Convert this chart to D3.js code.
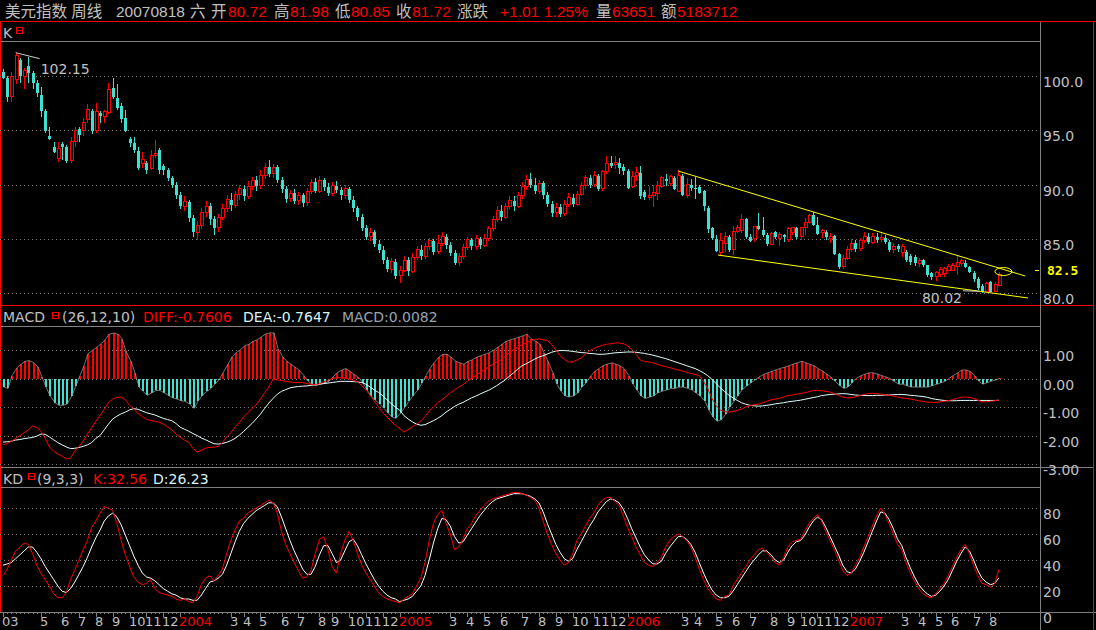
<!DOCTYPE html>
<html><head><meta charset="utf-8">
<script src="https://cdn.jsdelivr.net/npm/d3@7"></script>
<style>body{margin:0;background:#000;overflow:hidden}svg{display:block}</style>
</head><body><svg id="c" width="1096" height="630"></svg>
<script>
// ---------------- DATA ----------------
const opens=[100.4,99.8,98.1,99.7,101.5,100.0,100.9,100.3,99.35,98.25,
96.8,94.5,93.5,92.4,93.7,93.45,92.2,94.0,95.1,95.0,
96.0,96.8,95.0,96.6,96.3,96.6,98.9,98.0,97.2,96.1,
94.2,93.8,93.1,91.9,92.0,91.5,92.7,93.2,91.7,91.3,
90.6,90.0,89.0,88.0,88.4,86.9,85.6,86.2,87.4,88.0,
86.8,86.0,87.0,87.8,88.6,88.1,89.1,89.6,88.9,89.8,
90.4,89.9,90.8,91.6,91.0,91.6,90.4,89.6,88.7,89.2,
88.5,89.0,88.3,89.4,90.2,89.4,90.4,89.8,89.2,89.9,
89.5,89.0,89.6,88.6,87.8,87.0,86.0,85.2,85.6,84.5,
84.0,83.0,82.2,82.9,81.6,82.1,83.0,82.0,83.3,84.0,
83.4,84.3,84.8,83.8,84.6,85.2,84.4,83.7,82.8,83.4,
84.2,84.9,84.3,85.0,84.4,85.0,85.9,86.8,87.6,87.0,
88.0,88.5,88.0,89.0,89.8,90.5,90.0,89.4,90.1,89.0,
88.2,87.4,87.9,87.3,88.2,88.8,88.2,89.1,89.9,90.6,
90.0,90.8,89.6,91.2,92.0,91.8,92.0,91.6,91.2,89.8,
90.8,91.1,89.3,88.8,88.95,89.2,89.8,90.5,90.1,90.6,
89.4,90.8,89.0,90.0,89.7,89.8,89.4,87.8,86.0,85.0,
83.7,84.6,85.2,84.0,85.7,85.8,86.8,85.2,85.0,86.2,
85.8,85.35,84.5,85.6,85.0,85.3,84.9,85.6,86.0,85.2,
86.0,86.5,87.2,86.3,85.6,85.6,85.0,85.25,83.6,82.4,
83.2,84.0,84.6,84.1,84.8,85.2,84.7,85.2,84.9,85.1,
84.7,84.0,84.3,83.7,83.8,83.4,83.3,82.7,83.0,82.6,
81.8,81.5,81.75,81.8,82.1,82.1,82.4,82.7,82.8,82.4,
81.85,81.3,80.6,80.1,81.0,80.1,80.72];
const highs=[100.6,100.0,100.4,102.15,101.7,100.7,101.75,100.5,99.6,99.0,
97.0,95.3,93.9,93.9,93.9,93.6,94.4,95.3,95.3,96.1,
97.4,97.0,97.5,96.8,96.9,99.35,99.8,99.3,97.5,96.9,
94.4,94.4,93.45,93.0,92.2,93.2,94.1,93.4,91.9,91.5,
90.8,90.2,89.3,88.9,88.6,87.2,86.6,87.8,88.5,88.3,
87.1,87.3,88.2,89.0,89.2,89.4,90.0,89.9,90.3,90.7,
90.8,91.3,92.0,92.3,91.9,91.8,90.7,89.9,89.5,89.6,
89.3,89.2,89.7,90.5,90.6,90.8,90.6,90.1,90.2,90.3,
89.8,90.0,89.8,88.9,88.0,87.3,86.3,86.0,85.8,84.9,
84.3,83.3,83.2,83.1,82.5,83.4,83.3,83.7,84.3,84.4,
84.6,85.1,85.0,85.3,85.6,85.4,84.7,84.0,83.7,84.5,
85.2,85.1,85.3,85.2,85.4,86.2,87.1,88.0,88.1,88.3,
88.9,88.9,89.3,90.2,90.9,91.1,90.6,90.4,90.3,89.3,
88.5,88.3,88.2,88.6,89.2,89.1,89.4,90.2,90.9,90.9,
91.2,91.0,91.3,92.6,92.6,92.6,92.4,91.9,91.4,91.2,
91.6,91.7,89.5,89.9,90.0,90.3,90.8,91.0,90.9,90.8,
91.3,91.0,90.6,90.5,90.7,90.0,89.5,88.0,86.1,85.3,
85.5,85.6,85.3,86.2,86.3,87.3,86.9,85.4,86.2,87.4,
87.0,85.5,85.6,85.7,85.6,85.4,86.1,86.0,86.1,86.1,
86.9,87.3,87.5,87.0,85.9,85.8,85.5,85.3,83.7,83.5,
84.3,85.0,84.9,85.1,85.6,85.5,85.5,85.5,85.6,85.3,
84.9,84.6,84.5,84.5,84.0,83.6,83.5,83.2,83.1,82.6,
81.9,82.0,82.4,82.4,82.7,82.8,83.4,83.1,83.0,82.5,
82.0,81.5,80.8,81.0,81.1,81.0,81.98];
const lows=[99.7,97.6,97.6,99.3,99.4,98.8,99.4,98.8,98.1,96.2,
94.75,94.1,92.9,92.1,92.3,92.0,92.0,93.5,93.9,94.5,
95.7,94.7,94.75,95.7,95.7,96.5,97.9,96.9,95.7,94.8,
93.5,92.9,91.3,91.5,91.0,91.3,92.4,91.0,90.9,90.3,
89.7,88.7,87.7,87.6,86.5,85.2,84.9,85.9,87.0,86.3,
85.3,85.6,86.7,87.5,87.6,87.8,88.6,88.5,88.7,89.5,
89.4,89.6,90.5,90.7,90.6,90.1,89.2,88.3,88.4,88.2,
88.1,87.9,88.0,89.1,89.2,89.2,89.4,88.9,88.9,89.2,
88.6,88.7,88.3,87.5,86.6,85.7,84.9,84.8,84.2,83.7,
82.7,81.9,81.8,81.3,80.9,81.9,81.6,81.8,83.0,83.0,
83.1,84.0,83.5,83.6,84.3,84.1,83.4,82.6,82.5,83.1,
84.0,84.0,84.0,84.1,84.2,84.8,85.7,86.5,86.6,86.8,
87.7,87.6,87.8,88.7,89.5,89.7,89.1,89.1,88.7,87.9,
87.0,87.0,87.0,87.1,87.9,87.9,88.0,88.9,89.6,89.7,
89.8,89.4,89.4,91.0,91.5,91.4,91.0,90.9,89.6,89.7,
90.3,88.7,88.6,88.6,87.9,88.6,89.7,89.9,89.9,89.5,
89.3,88.9,88.8,89.4,88.7,89.1,87.6,85.5,84.9,83.8,
83.5,83.8,83.8,83.5,85.5,85.5,85.0,84.7,84.7,85.8,
85.2,84.3,84.4,85.0,84.3,84.7,84.7,85.3,85.0,84.9,
85.3,86.4,86.2,85.3,85.1,84.9,84.6,83.5,82.2,82.2,
83.0,83.8,83.8,83.9,84.6,84.5,84.5,84.6,84.7,84.5,
83.8,83.7,83.8,83.3,82.9,82.6,82.5,82.4,82.4,81.5,
81.2,81.1,81.5,81.5,82.0,82.0,81.7,82.5,82.3,81.8,
81.0,80.3,80.02,80.05,80.05,80.1,80.6];
const closes=[99.8,98.1,100.0,101.9,100.0,100.5,100.3,99.35,98.4,96.8,
94.9,94.2,93.0,93.3,93.45,92.2,94.0,95.0,94.55,95.75,
96.9,94.9,96.7,96.3,96.7,98.8,98.1,97.05,96.0,94.9,
93.8,93.2,91.5,92.3,91.35,92.7,92.9,91.3,91.3,90.6,
90.0,89.0,88.0,88.4,86.9,85.6,86.2,87.4,88.0,86.8,
86.0,87.0,87.8,88.6,88.1,89.1,89.6,88.9,89.8,90.4,
89.9,90.8,91.6,91.0,91.6,90.4,89.6,88.7,89.2,88.5,
89.0,88.3,89.4,90.2,89.4,90.4,89.8,89.2,89.9,89.5,
89.0,89.6,88.6,87.8,87.0,86.0,85.2,85.6,84.5,84.0,
83.0,82.2,82.9,81.6,82.1,83.0,82.0,83.3,84.0,83.4,
84.3,84.8,83.8,84.6,85.2,84.4,83.7,82.8,83.4,84.2,
84.9,84.3,85.0,84.4,85.0,85.9,86.8,87.6,87.0,88.0,
88.5,88.0,89.0,89.8,90.5,90.0,89.4,90.1,89.0,88.2,
87.4,87.9,87.3,88.2,88.8,88.2,89.1,89.9,90.6,90.0,
90.8,89.6,91.2,91.9,91.7,92.0,91.5,91.2,89.7,90.7,
91.1,88.9,88.85,89.0,89.3,89.9,90.6,90.3,90.7,89.6,
90.8,89.0,90.0,89.7,89.6,89.2,88.0,85.9,85.1,83.9,
84.8,85.2,84.0,85.7,86.0,86.8,85.2,84.8,86.1,85.9,
85.35,84.5,85.5,85.2,85.35,85.2,85.9,86.0,85.2,86.0,
86.5,87.1,86.3,85.45,85.8,85.2,85.25,83.6,82.4,83.2,
84.0,84.6,84.1,84.8,85.2,84.7,85.2,84.9,85.1,84.7,
84.0,84.3,84.1,84.3,83.0,82.9,82.8,83.0,82.6,81.7,
81.5,81.85,82.2,82.3,82.4,82.5,82.8,82.95,82.4,81.9,
81.3,80.45,80.1,80.9,80.1,80.75,81.72];
const diffs=[-2.33,-2.28,-2.2,-2.1,-2.0,-1.9,-1.8,-1.67,-1.72,-1.85,
-2.1,-2.4,-2.55,-2.65,-2.72,-2.82,-2.8,-2.55,-2.38,-2.2,
-1.95,-1.73,-1.5,-1.29,-1.08,-0.85,-0.72,-0.66,-0.65,-0.75,
-0.94,-1.08,-1.22,-1.33,-1.43,-1.47,-1.5,-1.53,-1.6,-1.7,
-1.8,-1.95,-2.06,-2.16,-2.24,-2.45,-2.58,-2.52,-2.44,-2.42,
-2.41,-2.38,-2.25,-2.05,-1.9,-1.71,-1.55,-1.35,-1.2,-1.05,
-0.92,-0.72,-0.5,-0.3,-0.02,-0.05,-0.07,-0.1,-0.12,-0.14,
-0.14,-0.14,-0.18,-0.2,-0.22,-0.18,-0.12,-0.06,0.0,0.03,
0.03,0.02,-0.02,-0.06,-0.12,-0.25,-0.4,-0.59,-0.8,-1.0,
-1.2,-1.35,-1.5,-1.64,-1.75,-1.88,-1.8,-1.7,-1.6,-1.5,
-1.33,-1.15,-1.0,-0.85,-0.75,-0.63,-0.5,-0.4,-0.3,-0.22,
-0.1,0.0,0.1,0.21,0.3,0.4,0.5,0.58,0.65,0.78,
0.9,1.0,1.1,1.18,1.25,1.32,1.37,1.39,1.36,1.33,
1.2,1.0,0.8,0.68,0.58,0.58,0.65,0.72,0.85,0.98,
1.05,1.12,1.16,1.2,1.22,1.24,1.25,1.22,1.15,1.02,
0.85,0.65,0.6,0.58,0.55,0.5,0.45,0.42,0.38,0.34,
0.3,0.26,0.22,0.18,0.14,0.1,-0.1,-0.35,-0.7,-0.95,
-1.11,-1.16,-1.18,-1.16,-1.12,-1.07,-1.0,-0.95,-0.92,-0.9,
-0.85,-0.8,-0.75,-0.72,-0.7,-0.65,-0.6,-0.58,-0.55,-0.53,
-0.5,-0.46,-0.42,-0.42,-0.43,-0.45,-0.48,-0.52,-0.6,-0.65,
-0.68,-0.68,-0.64,-0.6,-0.56,-0.53,-0.52,-0.53,-0.55,-0.57,
-0.59,-0.62,-0.65,-0.68,-0.7,-0.72,-0.75,-0.78,-0.8,-0.83,
-0.84,-0.84,-0.82,-0.8,-0.78,-0.74,-0.7,-0.66,-0.65,-0.66,
-0.7,-0.76,-0.82,-0.82,-0.8,-0.78,-0.7606];
const deas=[-2.23,-2.22,-2.2,-2.16,-2.14,-2.11,-2.09,-2.07,-2.02,-1.95,
-1.96,-2.05,-2.15,-2.25,-2.33,-2.4,-2.46,-2.45,-2.42,-2.38,
-2.33,-2.25,-2.1,-2.0,-1.8,-1.6,-1.42,-1.32,-1.24,-1.18,
-1.1,-1.06,-1.08,-1.14,-1.2,-1.24,-1.28,-1.34,-1.4,-1.44,
-1.48,-1.58,-1.71,-1.78,-1.85,-1.93,-2.0,-2.09,-2.15,-2.22,
-2.29,-2.3,-2.28,-2.24,-2.18,-2.1,-1.99,-1.86,-1.72,-1.58,
-1.42,-1.25,-1.05,-0.86,-0.7,-0.55,-0.45,-0.39,-0.33,-0.3,
-0.28,-0.27,-0.26,-0.24,-0.22,-0.2,-0.18,-0.16,-0.14,-0.12,
-0.1,-0.1,-0.1,-0.11,-0.12,-0.14,-0.2,-0.3,-0.4,-0.49,
-0.6,-0.75,-0.88,-1.0,-1.11,-1.3,-1.42,-1.52,-1.6,-1.64,
-1.62,-1.55,-1.48,-1.4,-1.3,-1.18,-1.08,-0.98,-0.9,-0.84,
-0.76,-0.68,-0.62,-0.55,-0.48,-0.42,-0.34,-0.25,-0.15,-0.05,
0.08,0.2,0.33,0.45,0.52,0.6,0.68,0.75,0.8,0.86,
0.92,0.96,0.98,0.98,0.97,0.95,0.93,0.91,0.9,0.88,
0.87,0.85,0.85,0.86,0.88,0.9,0.91,0.92,0.93,0.93,
0.92,0.9,0.88,0.85,0.82,0.78,0.74,0.7,0.65,0.6,
0.55,0.5,0.45,0.4,0.35,0.28,0.2,0.1,-0.03,-0.18,
-0.33,-0.46,-0.58,-0.68,-0.77,-0.85,-0.9,-0.94,-0.96,-0.97,
-0.96,-0.94,-0.92,-0.89,-0.87,-0.85,-0.82,-0.8,-0.78,-0.76,
-0.73,-0.7,-0.67,-0.64,-0.6,-0.58,-0.56,-0.55,-0.54,-0.53,
-0.54,-0.56,-0.58,-0.59,-0.6,-0.6,-0.6,-0.59,-0.59,-0.58,
-0.58,-0.57,-0.56,-0.56,-0.57,-0.59,-0.6,-0.62,-0.63,-0.66,
-0.7,-0.73,-0.75,-0.77,-0.78,-0.78,-0.78,-0.77,-0.77,-0.77,
-0.77,-0.77,-0.77,-0.77,-0.77,-0.77,-0.7647];
const macds=[-0.3,-0.35,0.1,0.38,0.5,0.6,0.63,0.55,0.4,0.05,
-0.3,-0.6,-0.85,-0.94,-0.94,-0.9,-0.6,-0.25,0.1,0.45,
0.87,1.0,1.1,1.22,1.35,1.55,1.6,1.55,1.4,0.95,
0.6,0.2,-0.3,-0.45,-0.59,-0.5,-0.42,-0.42,-0.5,-0.6,
-0.68,-0.72,-0.78,-0.8,-0.9,-1.05,-0.8,-0.6,-0.45,-0.35,
-0.2,-0.05,0.2,0.5,0.75,0.9,1.0,1.15,1.2,1.3,
1.35,1.45,1.57,1.6,1.6,1.05,0.75,0.6,0.5,0.4,
0.3,0.1,-0.1,-0.2,-0.25,-0.2,-0.15,-0.1,0.05,0.2,
0.3,0.35,0.25,0.15,0.05,-0.15,-0.4,-0.6,-0.75,-0.9,
-1.05,-1.2,-1.35,-1.4,-1.2,-1.0,-0.8,-0.6,-0.4,-0.15,
0.1,0.35,0.55,0.75,0.85,0.85,0.75,0.6,0.55,0.5,
0.6,0.65,0.75,0.8,0.85,0.9,1.0,1.1,1.2,1.3,
1.35,1.4,1.45,1.5,1.55,1.4,1.3,1.2,0.9,0.6,
0.2,-0.2,-0.45,-0.6,-0.65,-0.6,-0.5,-0.3,-0.15,0.1,
0.25,0.35,0.45,0.5,0.55,0.5,0.45,0.35,0.1,-0.2,
-0.4,-0.6,-0.7,-0.65,-0.6,-0.5,-0.45,-0.4,-0.35,-0.35,
-0.3,-0.3,-0.35,-0.4,-0.5,-0.6,-0.8,-1.1,-1.35,-1.5,
-1.45,-1.25,-1.0,-0.8,-0.6,-0.4,-0.25,-0.15,-0.05,0.05,
0.15,0.2,0.25,0.3,0.35,0.4,0.45,0.5,0.55,0.6,
0.55,0.5,0.45,0.35,0.25,0.15,0.05,-0.1,-0.25,-0.35,
-0.3,-0.15,0.0,0.1,0.15,0.2,0.2,0.15,0.1,0.05,
0.0,-0.1,-0.2,-0.2,-0.25,-0.3,-0.3,-0.3,-0.3,-0.3,
-0.25,-0.2,-0.15,-0.1,0.0,0.1,0.2,0.3,0.3,0.25,
0.1,-0.1,-0.2,-0.15,-0.1,-0.05,0.0082];
const kvals=[28,33,40,47,50,53,52,45,36,30,
25,20,14,11,11,15,25,32,40,48,
55,65,70,76,81,80,78,68,55,44,
35,27,23,21,22,25,18,15,14,13,
12,10,9,10,8,7,12,21,26,28,
24,28,33,45,55,63,70,72,76,78,
80,82,84,86,84,76,62,52,45,38,
32,26,27,32,45,56,58,48,35,30,
45,55,62,55,45,36,30,25,20,15,
12,10,9,8,7,10,12,14,20,26,
38,55,68,75,78,68,60,48,50,56,
64,68,74,78,82,85,87,88,89,90,
91,92,92,91,90,88,86,80,70,60,
52,45,40,36,38,45,55,60,66,72,
76,82,86,88,88,85,82,74,65,58,
50,44,38,36,35,38,42,50,55,58,
60,58,55,50,42,33,25,18,14,10,
9,12,13,20,25,30,35,40,44,48,
49,46,42,38,36,42,50,54,55,56,
62,68,72,75,70,62,55,48,40,32,
28,30,36,42,50,58,66,74,80,75,
68,60,52,48,38,30,24,18,14,12,
11,14,18,22,28,35,42,48,52,45,
36,28,22,21,19,22,32.56];
const dvals=[36,37,38,41,44,47,50,50,46,41,
35,30,25,20,16,15,18,23,29,35,
42,50,57,63,70,74,76,73,67,59,
51,43,36,30,27,26,24,21,18,16,
14,13,11,10,10,9,9,13,18,23,
24,26,29,36,45,54,62,68,72,75,
78,80,82,84,84,81,73,64,55,47,
40,33,29,29,35,44,51,51,45,38,
40,47,54,56,51,44,37,31,25,20,
16,13,11,10,8,9,10,12,16,20,
28,40,53,64,72,71,66,58,53,54,
59,64,69,74,78,82,85,87,88,89,
90,91,91,91,90,89,87,84,77,68,
60,52,46,41,39,41,48,54,60,66,
71,77,81,85,87,86,84,79,72,64,
57,50,44,40,37,37,39,45,50,54,
58,58,56,52,46,38,30,23,17,13,
11,11,12,16,21,26,31,36,40,44,
47,47,44,40,38,40,46,51,54,55,
59,65,70,73,71,65,58,51,44,36,
31,30,33,39,46,54,62,70,77,76,
71,64,56,51,42,34,27,21,17,14,
12,13,16,20,25,32,39,45,50,47,
40,32,26,23,21,22,26.23];
const priceTicks=[100,95,90,85,80];
const macdTicks=[1,0,-1,-2,-3];
const kdTicks=[80,60,40,20,0];
// [bar index, label]
const timeTicks=[[0,"03"],[9,"5"],[14,"6"],[18,"7"],[22,"8"],[26,"9"],[30,"10"],[34,"11"],[38,"12"],[42,"2004"],
[54,"3"],[57,"4"],[61,"5"],[66,"6"],[70,"7"],[75,"8"],[78,"9"],[82,"10"],[86,"11"],[90,"12"],[94,"2005"],
[106,"3"],[110,"4"],[114,"5"],[118,"6"],[123,"7"],[127,"8"],[131,"9"],[135,"10"],[140,"11"],[144,"12"],[148,"2006"],
[161,"3"],[164,"4"],[169,"5"],[173,"6"],[177,"7"],[182,"8"],[186,"9"],[189,"10"],[193,"11"],[197,"12"],[201,"2007"],
[213,"3"],[217,"4"],[221,"5"],[225,"6"],[230,"7"],[234,"8"]];
// trend lines drawn on the chart, in [bar index, price]
const upperTrend=[[160,91.24],[242.2,81.57]];
const lowerTrend=[[169.4,83.5],[242.9,79.54]];
const highMark={i:3,v:102.15,label:"102.15"};
const lowMark={i:232,v:80.02,label:"80.02"};
const markLevel=82.5;

// ---------------- DRAW ----------------
const N=closes.length;
[opens,highs,lows,diffs,deas,macds,kvals,dvals].forEach((a,k)=>{if(a.length!==N) throw new Error("len mismatch "+k+" "+a.length+" vs "+N);});
const W=1096,H=630;
const gray="#c0c0c0", red="#ff0000", cyan="#40e0d0", gridC="#808080", lineC="#808080";
const svg=d3.select("#c").attr("font-family",'"DejaVu Sans","Noto Sans CJK SC",sans-serif').attr("font-size",14);
svg.append("rect").attr("width",W).attr("height",H).attr("fill","#000");

const x=d3.scaleLinear().domain([0,N-1]).range([3,998.9]);
const yK=d3.scaleLinear().domain([80,100]).range([293,76]);
const yM=d3.scaleLinear().domain([-3,1]).range([464,350]);
const yD=d3.scaleLinear().domain([0,80]).range([612,508]);
const px=i=>Math.round(x(i));

const g=svg.append("g").attr("shape-rendering","crispEdges");

function hline(y,x1,x2,c){g.append("line").attr("x1",x1).attr("x2",x2).attr("y1",y).attr("y2",y).attr("stroke",c);}
function vline(xx,y1,y2,c){g.append("line").attr("x1",xx).attr("x2",xx).attr("y1",y1).attr("y2",y2).attr("stroke",c);}
hline(21.5,0,1096,red);
hline(41.5,0,1041,lineC);
hline(305.5,0,1094,red);
hline(326.5,0,1041,lineC);
hline(467.5,0,1094,lineC);
hline(487.5,0,1041,lineC);
hline(612.5,0,1096,lineC);
vline(1040.5,22,630,lineC);
vline(1093.5,21,630,red);
vline(0.5,21,612,red);

function grid(ticks,sc,fmt){
  ticks.forEach(v=>{
    g.append("line").attr("x1",0).attr("x2",1040).attr("y1",Math.round(sc(v))+0.5).attr("y2",Math.round(sc(v))+0.5)
     .attr("stroke",gridC).attr("stroke-dasharray","1,3");
    svg.append("text").attr("x",1043).attr("y",sc(v)+11).attr("fill",gray).text(fmt(v));
  });
}
grid(priceTicks,yK,v=>v.toFixed(1));
grid(macdTicks,yM,v=>(v<0?"-":"")+Math.abs(v).toFixed(2));
grid(kdTicks,yD,v=>String(v));

svg.append("clipPath").attr("id","ck").append("rect").attr("x",1).attr("y",42).attr("width",1039).attr("height",263);
svg.append("clipPath").attr("id","cm").append("rect").attr("x",1).attr("y",327).attr("width",1039).attr("height",140);
svg.append("clipPath").attr("id","cd").append("rect").attr("x",1).attr("y",488).attr("width",1039).attr("height",124);

// candles
const gk=svg.append("g").attr("clip-path","url(#ck)").attr("shape-rendering","crispEdges");
for(let i=0;i<N;i++){
  const o=opens[i],c=closes[i],h=highs[i],l=lows[i];
  const p=px(i);
  const top=yK(Math.max(o,c)), bot=yK(Math.min(o,c));
  if(c>=o){
    gk.append("line").attr("x1",p+0.5).attr("x2",p+0.5).attr("y1",yK(h)).attr("y2",top).attr("stroke",red);
    gk.append("line").attr("x1",p+0.5).attr("x2",p+0.5).attr("y1",bot).attr("y2",yK(l)).attr("stroke",red);
    gk.append("rect").attr("x",p-1).attr("y",top).attr("width",3).attr("height",Math.max(1,bot-top)).attr("fill","#000").attr("stroke",red);
  } else {
    gk.append("line").attr("x1",p+0.5).attr("x2",p+0.5).attr("y1",yK(h)).attr("y2",yK(l)).attr("stroke",cyan);
    gk.append("rect").attr("x",p-1).attr("y",top).attr("width",3).attr("height",Math.max(1,bot-top)).attr("fill",cyan);
  }
}
const lineK=d3.line().x(d=>x(d[0])).y(d=>yK(d[1]));
svg.append("path").attr("d",lineK(upperTrend)).attr("stroke","#ffff00").attr("fill","none");
svg.append("path").attr("d",lineK(lowerTrend)).attr("stroke","#ffff00").attr("fill","none");
svg.append("ellipse").attr("cx",x(N-1)+4.5).attr("cy",yK(highs[N-1])).attr("rx",8.5).attr("ry",4).attr("stroke","#ffff00").attr("fill","none");
const hx=x(highMark.i), hy=yK(highMark.v);
svg.append("line").attr("x1",hx).attr("y1",hy).attr("x2",hx+24).attr("y2",hy+6).attr("stroke","#d0d0d0");
svg.append("text").attr("x",hx+25).attr("y",hy+21).attr("fill",gray).text(highMark.label);
const lx=x(lowMark.i), ly=yK(lowMark.v);
svg.append("line").attr("x1",lx-19).attr("y1",ly-2).attr("x2",lx-2).attr("y2",ly-1.5).attr("stroke","#d0d0d0");
svg.append("text").attr("x",lx-20).attr("y",ly+10).attr("text-anchor","end").attr("fill",gray).text(lowMark.label);
g.append("line").attr("x1",1035).attr("x2",1039).attr("y1",Math.round(yK(markLevel))+4.5).attr("y2",Math.round(yK(markLevel))+4.5).attr("stroke","#ffff00");
svg.append("text").attr("x",1047).attr("y",yK(markLevel)+9).attr("fill","#ffff00").attr("font-family","'DejaVu Sans Mono',monospace").attr("font-weight","bold").attr("font-size",13).text(markLevel.toFixed(1));

// MACD
const gm=svg.append("g").attr("clip-path","url(#cm)");
const gmb=gm.append("g").attr("shape-rendering","crispEdges");
for(let i=0;i<N;i++){
  const v=macds[i], p=px(i);
  const y0=yM(0), y1=yM(v);
  gmb.append("rect").attr("x",p).attr("width",2).attr("y",Math.min(y0,y1)).attr("height",Math.max(1,Math.abs(y1-y0))).attr("fill",v>=0?red:cyan);
}
gm.append("path").attr("d",d3.line().x((d,i)=>px(i)+1).y(d=>yM(d))(macds)).attr("stroke","#909090").attr("fill","none").attr("stroke-width",0.8);
gm.append("path").attr("d",d3.line().x((d,i)=>x(i)).y(d=>yM(d))(deas)).attr("stroke","#e8ffff").attr("fill","none");
gm.append("path").attr("d",d3.line().x((d,i)=>x(i)).y(d=>yM(d))(diffs)).attr("stroke",red).attr("fill","none");

// KD
const gd=svg.append("g").attr("clip-path","url(#cd)");
gd.append("path").attr("d",d3.line().x((d,i)=>x(i)).y(d=>yD(d))(dvals)).attr("stroke","#ffffff").attr("fill","none");
gd.append("path").attr("d",d3.line().x((d,i)=>x(i)).y(d=>yD(d))(kvals)).attr("stroke",red).attr("fill","none");

// time axis
for(let i=0;i<N;i++){ g.append("line").attr("x1",px(i)+0.5).attr("x2",px(i)+0.5).attr("y1",613).attr("y2",614).attr("stroke",lineC); }
timeTicks.forEach(([i,lab])=>{
  g.append("line").attr("x1",px(i)+0.5).attr("x2",px(i)+0.5).attr("y1",613).attr("y2",617).attr("stroke",lineC);
  svg.append("text").attr("x",i===0?2:px(i)-1).attr("y",626).attr("font-size",13).attr("fill",lab.length>2?red:gray).text(lab);
});

// header
const header=[[5,"美元指数 周线",gray],[116,"20070818",gray],[190,"六",gray],[211,"开",gray],[228,"80.72",red],[274,"高",gray],[290,"81.98",red],
[335,"低",gray],[351,"80.85",red],[396,"收",gray],[412,"81.72",red],[457,"涨跌",gray],[500,"+1.01",red],[544,"1.25%",red],
[596,"量",gray],[612,"63651",red],[661,"额",gray],[677,"5183712",red]];
header.forEach(([xx,t,c])=>svg.append("text").attr("x",xx).attr("y",17).attr("fill",c)
  .attr("font-family",'"Liberation Sans","Noto Sans CJK SC",sans-serif').attr("font-size",15.5).text(t));

function box(bx,by){
  g.append("rect").attr("x",bx+0.5).attr("y",by+0.5).attr("width",6).attr("height",6).attr("fill","none").attr("stroke",red);
  g.append("line").attr("x1",bx+2).attr("x2",bx+5).attr("y1",by+3.5).attr("y2",by+3.5).attr("stroke",red);
}
svg.append("text").attr("x",3).attr("y",38).attr("fill",gray).text("K");
box(16,27);
const ml=[[3,"MACD",gray],[62,"(26,12,10)",gray],[143,"DIFF:-0.7606",red],[243,"DEA:-0.7647","#d8f4f4"],[342,"MACD:0.0082","#98a4b0"]];
ml.forEach(([xx,t,c])=>svg.append("text").attr("x",xx).attr("y",322).attr("fill",c).text(t));
box(52,312);
const kl=[[3,"KD",gray],[37,"(9,3,3)",gray],[93,"K:32.56",red],[153,"D:26.23","#d8f4f4"]];
kl.forEach(([xx,t,c])=>svg.append("text").attr("x",xx).attr("y",484).attr("fill",c).text(t));
box(28,473);
</script></body></html>
